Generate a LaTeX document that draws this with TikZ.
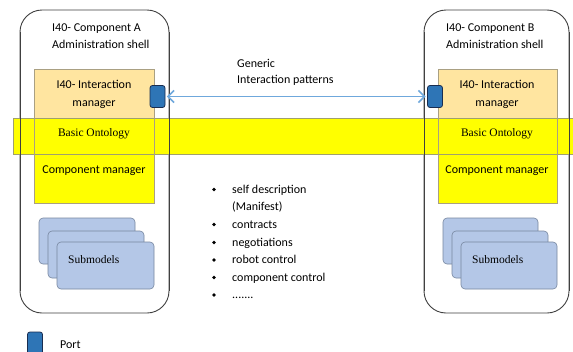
\documentclass[tikz,border=0pt]{standalone}
\usepackage{fontspec}
\setmainfont{Carlito}
\newfontfamily\serifface{Liberation Serif}
\usetikzlibrary{arrows.meta}

\definecolor{shellline}{RGB}{64,64,64}
\definecolor{imfill}{RGB}{255,229,160}
\definecolor{boxline}{RGB}{170,160,130}
\definecolor{ontoyellow}{RGB}{255,255,0}
\definecolor{ontoline}{RGB}{160,160,110}
\definecolor{subfill}{RGB}{180,199,231}
\definecolor{subline}{RGB}{120,135,160}
\definecolor{portfill}{RGB}{46,117,182}
\definecolor{portline}{RGB}{25,45,80}
\definecolor{linkblue}{RGB}{111,168,220}

\tikzset{
  shell/.style={draw=shellline, line width=0.9pt, rounded corners=22pt, fill=white},
  portbox/.style={draw=portline, line width=0.8pt, fill=portfill, rounded corners=2.5pt},
  submodel/.style={draw=subline, line width=0.6pt, fill=subfill, rounded corners=4pt},
  txt/.style={font=\fontsize{12}{17.5}\selectfont, inner sep=0pt},
  sertxt/.style={font=\serifface\fontsize{11.5}{14}\selectfont, inner sep=0pt},
  link/.style={draw=linkblue, line width=1.8pt, {Straight Barb[length=6pt,width=12pt,line width=1.6pt]}-{Straight Barb[length=6pt,width=12pt,line width=1.6pt]}}
}

\begin{document}
\begin{tikzpicture}[x=1pt,y=-1pt]
  \clip (0,0) rectangle (573,351);
  \fill[white] (0,0) rectangle (573,351);

  % administration shells
  \draw[shell] (20,10) rectangle (169,313);
  \draw[shell] (424,10) rectangle (569,313);

  % interaction managers and component managers (fills)
  \fill[imfill] (34,69) rectangle (154,118);
  \fill[imfill] (438,69) rectangle (557,118);
  \fill[ontoyellow] (34,154) rectangle (154,203);
  \fill[ontoyellow] (438,154) rectangle (557,203);

  % basic ontology band across both shells
  \fill[ontoyellow] (13,118) rectangle (573,154);
  \draw[ontoline, line width=0.6pt] (13,154) -- (573,154) (573,118) -- (13,118) -- (13,154);

  % outlines drawn over the band
  \draw[shellline, line width=0.9pt] (20,32) -- (20,291) (169,32) -- (169,291)
        (424,32) -- (424,291) (569,32) -- (569,291);
  \draw[boxline, line width=0.6pt] (34,69) rectangle (154,203);
  \draw[boxline, line width=0.6pt] (438,69) rectangle (557,203);

  % submodel stacks
  \draw[submodel] (39,218) rectangle (135,264);
  \draw[submodel] (48,231) rectangle (144,278);
  \draw[submodel] (57,242) rectangle (154,289);
  \draw[submodel] (443,218) rectangle (538,264);
  \draw[submodel] (452,231) rectangle (548,278);
  \draw[submodel] (461,242) rectangle (557,289);

  % texts inside the shells
  \node[txt, anchor=base west] (titleA1) at (52,31) {I40- Component A};
  \node[txt, anchor=base west] (titleA2) at (52,48.5) {Administration shell};
  \node[txt, anchor=base west] (titleB1) at (446,31) {I40- Component B};
  \node[txt, anchor=base west] (titleB2) at (446,48.5) {Administration shell};
  \node[txt, anchor=base] (imA1) at (94,88) {I40- Interaction};
  \node[txt, anchor=base] (imA2) at (94,106) {manager};
  \node[txt, anchor=base] (imB1) at (497,88) {I40- Interaction};
  \node[txt, anchor=base] (imB2) at (497,106) {manager};
  \node[sertxt, anchor=base] (ontoA) at (94,136) {Basic Ontology};
  \node[sertxt, anchor=base] (ontoB) at (497,136) {Basic Ontology};
  \node[txt, anchor=base] (cmA) at (94,173) {Component manager};
  \node[txt, anchor=base] (cmB) at (497,173) {Component manager};
  \node[sertxt, anchor=base west] (subA) at (68,263) {Submodels};
  \node[sertxt, anchor=base west] (subB) at (472,263) {Submodels};

  % ports and the interaction link
  \node[portbox, minimum width=15pt, minimum height=22pt, inner sep=0pt] (portA) at (157.5,96.5) {};
  \node[portbox, minimum width=15pt, minimum height=22pt, inner sep=0pt] (portB) at (435,96.5) {};
  \draw[link] ([xshift=1.5pt]portA.east) -- ([xshift=-1.5pt]portB.west);
  \node[txt, anchor=base west] (generic1) at (237,67) {Generic};
  \node[txt, anchor=base west] (generic2) at (237,83.5) {Interaction patterns};

  % list of interaction topics
  \foreach \y/\t in {193/{self description}, 210.5/{(Manifest)}, 228/{contracts}, 246/{negotiations}, 263.5/{robot control}, 281/{component control}}{
    \node[txt, anchor=base west] at (232,\y) {\t};
  }
  \node[txt, anchor=base west] (more) at (232,298.5) {.......};
  \foreach \y in {189.5,224.5,242.5,260,277.5,295}{
    \fill (214,\y) circle (1.9pt);
  }

  % legend
  \node[portbox, minimum width=15pt, minimum height=24pt, inner sep=0pt] (portL) at (35,344) {};
  \node[txt, anchor=base west] (portT) at (60,348) {Port};
\end{tikzpicture}
\end{document}
